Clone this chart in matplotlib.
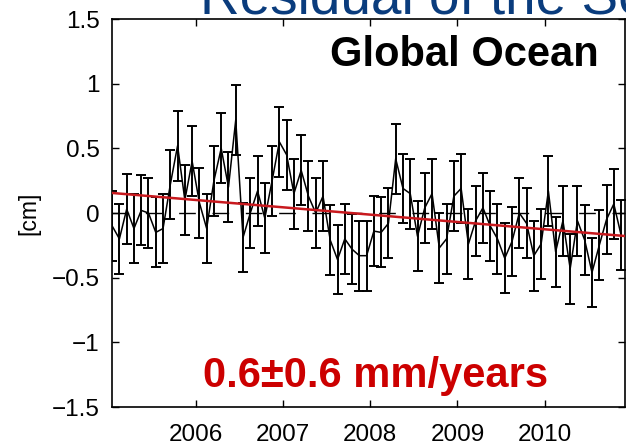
import matplotlib as mpl
import matplotlib.pyplot as plt
import numpy as np

mpl.rcParams['font.family'] = ['Liberation Sans', 'DejaVu Sans']

# monthly residual (cm), Jan 2005 .. Nov 2010
start_year = 2005
residual = [-0.10, -0.20, 0.03, -0.12, 0.02, 0.00, -0.15, -0.12, 0.22, 0.52, 0.10, 0.40,
            0.08, -0.12, 0.25, 0.50, 0.20, 0.72, -0.19, 0.00, 0.17, -0.04, 0.25, 0.55,
            0.45, 0.15, 0.33, 0.13, 0.00, 0.13, -0.21, -0.36, -0.20, -0.28, -0.33, -0.33,
            -0.14, -0.15, -0.08, 0.42, 0.19, 0.15, -0.18, 0.04, 0.15, -0.27, -0.20, 0.13,
            0.19, -0.24, -0.06, 0.04, -0.10, -0.20, -0.35, -0.22, 0.00, -0.08, -0.33, -0.24,
            0.17, -0.30, -0.06, -0.43, -0.06, -0.21, -0.46, -0.25, -0.05, 0.07, -0.17]
error = [0.27] * len(residual)

# linear trend end points
trend_years = [2005.04, 2010.92]
trend_values = [0.155, -0.178]

zero_level = 0.0
xtick_years = [2006, 2007, 2008, 2009, 2010]
ytick_values = [-1.5, -1, -0.5, 0, 0.5, 1, 1.5]
ytick_labels = ['\u22121.5', '\u22121', '\u22120.5', '0', '0.5', '1', '1.5']

years = start_year + (np.arange(len(residual)) + 0.5) / 12.0

fig = plt.figure(figsize=(6.26, 4.45), dpi=100)
ax = fig.add_axes([112 / 626, 1 - 407 / 445, 513 / 626, 388 / 445])

ax.axhline(zero_level, color='black', lw=1.0, dashes=(12, 12), zorder=1)
ax.errorbar(years, residual, yerr=error, color='black', lw=1.1, elinewidth=1.4,
            capsize=3.5, capthick=1.4, zorder=2)
ax.plot(trend_years, trend_values, color='#c8191e', lw=1.8, zorder=3)

ax.set_xlim(2005.04, 2010.92)
ax.set_ylim(-1.5, 1.5)
ax.set_xticks(xtick_years)
ax.set_xticklabels([str(y) for y in xtick_years])
ax.set_yticks(ytick_values)
ax.set_yticklabels(ytick_labels)
ax.tick_params(direction='in', length=5, width=1, top=True, right=True,
               labelsize=17.5, pad=9)
ax.tick_params(axis='x', pad=12)
for s in ax.spines.values():
    s.set_linewidth(1.2)
ax.set_ylabel('[cm]', fontsize=16.5, labelpad=8)

ax.text(0.686, 0.879, 'Global Ocean', transform=ax.transAxes, ha='center',
        va='baseline', fontsize=30, fontweight='bold', color='black')
ax.text(0.513, 0.052, '0.6\u00b10.6 mm/years', transform=ax.transAxes, ha='center',
        va='baseline', fontsize=30, fontweight='bold', color='#cc0000')

fig.text(200 / 626, 1 - 14 / 445, 'Residual of the Sea Level', ha='left',
         va='baseline', fontsize=39.5, color='#0a3c7d')

fig.savefig('out.png', dpi=100)
